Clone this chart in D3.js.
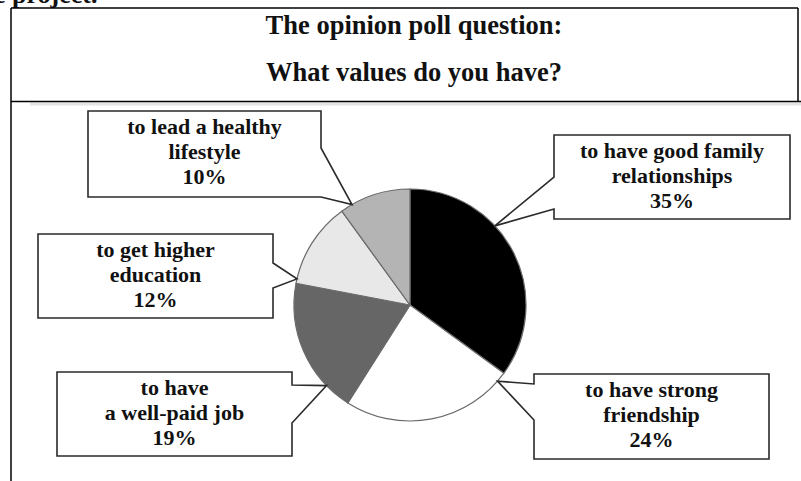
<!DOCTYPE html>
<html>
<head>
<meta charset="utf-8">
<script src="https://cdn.jsdelivr.net/npm/d3@7"></script>
<style>
  body { margin: 0; background: #fff; }
  svg { display: block; }
  text { font-family: "Liberation Serif", "Times New Roman", serif; font-weight: bold; fill: #111; }
</style>
</head>
<body>
<div id="chart"></div>
<script>
// data
var categories = [
  "to have good family relationships",
  "to have strong friendship",
  "to have a well-paid job",
  "to get higher education",
  "to lead a healthy lifestyle"
];
var values = [35, 24, 19, 12, 10];
var labelLines = [
  ["to have good family", "relationships"],
  ["to have strong", "friendship"],
  ["to have", "a well-paid job"],
  ["to get higher", "education"],
  ["to lead a healthy", "lifestyle"]
];
var titleLines = ["The opinion poll question:", "What values do you have?"];
var topText = "e project.";

// look
var fills = ["#000000", "#ffffff", "#666666", "#e8e8e8", "#b4b4b4"];

// callout boxes: box, which side the pointer leaves from, and where on the pie it points
var callouts = [
  {x: 554, y: 135, w: 236, h: 84, side: "left",  p0: 42, p1: 74, angle: 47},
  {x: 534, y: 374, w: 235, h: 85, side: "left",  p0: 10, p1: 46, angle: 131},
  {x: 57,  y: 372, w: 235, h: 84, side: "right", p0: 13, p1: 51, angle: 226},
  {x: 38,  y: 234, w: 235, h: 84, side: "right", p0: 29, p1: 54, angle: 283},
  {x: 88,  y: 111, w: 233, h: 86, side: "right", p0: 37, p1: 86, angle: 330}
];

var width = 801, height = 481;
var cx = 410, cy = 305, radius = 116;

var svg = d3.select("#chart").append("svg")
  .attr("width", width)
  .attr("height", height);

// cut-off text at the very top (it is cut in the source too)
svg.append("text")
  .attr("x", -6)
  .attr("y", 3)
  .attr("font-size", 26)
  .text(topText);

// table frame
var frame = svg.append("g")
  .attr("fill", "none")
  .attr("stroke", "#000")
  .attr("stroke-width", 1.5);
frame.append("rect").attr("x", 30).attr("y", 102.5).attr("width", 771).attr("height", 3).attr("fill", "#e4e4e4").attr("stroke", "none");
frame.append("line").attr("x1", 11).attr("y1", 8).attr("x2", 798).attr("y2", 8);
frame.append("line").attr("x1", 11).attr("y1", 8).attr("x2", 11).attr("y2", 481);
frame.append("line").attr("x1", 798).attr("y1", 8).attr("x2", 798).attr("y2", 102);
frame.append("line").attr("x1", 11).attr("y1", 101.5).attr("x2", 801).attr("y2", 101.5);

svg.append("g")
  .selectAll("text")
  .data(titleLines)
  .join("text")
    .attr("x", 414)
    .attr("y", function(d, i) { return 34 + i * 47; })
    .attr("text-anchor", "middle")
    .attr("font-size", 26.5)
    .text(function(d) { return d; });

// pie
var pie = d3.pie().sort(null).value(function(d) { return d; });
var arcs = pie(values);
var arc = d3.arc().innerRadius(0).outerRadius(radius);

var g = svg.append("g").attr("transform", "translate(" + cx + "," + cy + ")");
g.selectAll("path")
  .data(arcs)
  .join("path")
    .attr("d", arc)
    .attr("fill", function(d, i) { return fills[i]; })
    .attr("stroke", "#6a6a6a")
    .attr("stroke-width", 1.2);

// callouts
function calloutPath(c) {
  var tip = d3.pointRadial(c.angle * Math.PI / 180, radius);
  var tx = cx + tip[0], ty = cy + tip[1];
  var x0 = c.x, y0 = c.y, x1 = c.x + c.w, y1 = c.y + c.h;
  var p = d3.path();
  if (c.side === "right") {
    p.moveTo(x0, y0);
    p.lineTo(x1, y0);
    p.lineTo(x1, y0 + c.p0);
    p.lineTo(tx, ty);
    p.lineTo(x1, y0 + c.p1);
    p.lineTo(x1, y1);
    p.lineTo(x0, y1);
  } else {
    p.moveTo(x0, y0);
    p.lineTo(x1, y0);
    p.lineTo(x1, y1);
    p.lineTo(x0, y1);
    p.lineTo(x0, y0 + c.p1);
    p.lineTo(tx, ty);
    p.lineTo(x0, y0 + c.p0);
  }
  p.closePath();
  return p.toString();
}

var boxes = svg.append("g")
  .selectAll("g")
  .data(categories)
  .join("g");

boxes.append("path")
  .attr("d", function(d, i) { return calloutPath(callouts[i]); })
  .attr("fill", "#fff")
  .attr("stroke", "#2a2a2a")
  .attr("stroke-width", 1.6)
  .attr("stroke-linejoin", "miter");

boxes.each(function(d, i) {
  var c = callouts[i];
  var lines = labelLines[i].concat([values[i] + "%"]);
  d3.select(this).selectAll("text")
    .data(lines)
    .join("text")
      .attr("x", c.x + c.w / 2)
      .attr("y", function(t, j) { return c.y + 23 + j * 25; })
      .attr("text-anchor", "middle")
      .attr("font-size", 22)
      .text(function(t) { return t; });
});
</script>
</body>
</html>
